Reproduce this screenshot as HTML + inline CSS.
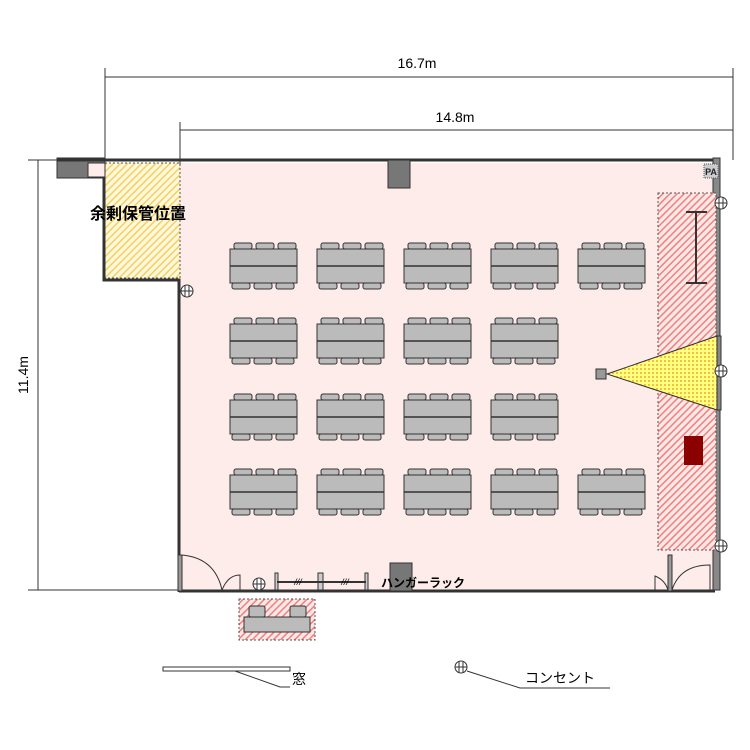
<!DOCTYPE html>
<html><head><meta charset="utf-8"><style>body{margin:0;background:#fff}svg{display:block}text{font-family:"Liberation Sans","Noto Sans CJK JP",sans-serif}</style></head><body>
<svg width="750" height="750" viewBox="0 0 750 750" xmlns="http://www.w3.org/2000/svg">
<defs>
<pattern id="ry" width="5" height="5" patternUnits="userSpaceOnUse" patternTransform="rotate(45)"><rect width="5" height="5" fill="#fff8dc"/><rect width="1.5" height="5" fill="#f5d060"/></pattern>
<pattern id="rr" width="5" height="5" patternUnits="userSpaceOnUse" patternTransform="rotate(45)"><rect width="5" height="5" fill="#fde8e6"/><rect width="1.5" height="5" fill="#f08080"/></pattern>
<pattern id="yy" width="4" height="4" patternUnits="userSpaceOnUse"><rect width="4" height="4" fill="#ffff80"/><rect width="2" height="2" fill="#f5c040"/></pattern>
<g id="tb">
<rect x="4" y="-6" width="18" height="6" rx="2" fill="#bbb" stroke="#333"/>
<rect x="26" y="-6" width="18" height="6" rx="2" fill="#bbb" stroke="#333"/>
<rect x="48" y="-6" width="18" height="6" rx="2" fill="#bbb" stroke="#333"/>
<rect x="0" y="0" width="67" height="34" fill="#bbb" stroke="#333"/>
<line x1="0" y1="17" x2="67" y2="17" stroke="#333" stroke-width="1.5"/>
<rect x="2" y="34" width="18" height="6" rx="2" fill="#bbb" stroke="#333"/>
<rect x="24" y="34" width="18" height="6" rx="2" fill="#bbb" stroke="#333"/>
<rect x="46" y="34" width="18" height="6" rx="2" fill="#bbb" stroke="#333"/>
</g>
<g id="out"><circle r="6" fill="#fff" stroke="#333"/><line x1="-6" y1="0" x2="6" y2="0" stroke="#333"/><line x1="-2" y1="-6" x2="-2" y2="6" stroke="#333"/><line x1="2" y1="-6" x2="2" y2="6" stroke="#333"/></g>
</defs>
<rect x="180" y="163" width="535" height="427" fill="#fdecea"/>
<rect x="88" y="163" width="92" height="14" fill="#fdecea"/>
<rect x="105" y="163" width="75" height="115" fill="url(#ry)" stroke="#555" stroke-dasharray="2,2"/>
<rect x="57" y="158" width="48" height="20" fill="#777" stroke="#333"/>
<rect x="88" y="163" width="17" height="14" fill="#fdecea" stroke="#333"/>
<line x1="57" y1="160" x2="715" y2="160" stroke="#333" stroke-width="3"/>
<rect x="388" y="160" width="22" height="28" fill="#777" stroke="#333"/>
<path d="M104 177 V280 H179 V592" fill="none" stroke="#333" stroke-width="3"/>
<rect x="713" y="158" width="7" height="432" fill="#888" stroke="#333"/>
<line x1="179" y1="591" x2="715" y2="591" stroke="#333" stroke-width="3"/>
<g stroke="#333" fill="none">
<line x1="105" y1="77" x2="733" y2="77"/><line x1="105" y1="68" x2="105" y2="165"/><line x1="733" y1="68" x2="733" y2="160"/>
<line x1="180" y1="130" x2="733" y2="130"/><line x1="180" y1="122" x2="180" y2="165"/>
<line x1="38" y1="160" x2="38" y2="590"/><line x1="28" y1="160" x2="60" y2="160"/><line x1="28" y1="590" x2="180" y2="590"/>
</g>
<text x="417" y="68" font-size="14" text-anchor="middle">16.7m</text>
<text x="455" y="122" font-size="14" text-anchor="middle">14.8m</text>
<text x="28" y="375" font-size="14" text-anchor="middle" transform="rotate(-90 28 375)">11.4m</text>
<text x="138" y="219" font-size="16" font-weight="bold" text-anchor="middle">余剰保管位置</text>
<g>
<use href="#tb" x="230" y="249"/><use href="#tb" x="317" y="249"/><use href="#tb" x="404" y="249"/><use href="#tb" x="491" y="249"/><use href="#tb" x="578" y="249"/>
<use href="#tb" x="230" y="324"/><use href="#tb" x="317" y="324"/><use href="#tb" x="404" y="324"/><use href="#tb" x="491" y="324"/>
<use href="#tb" x="230" y="400"/><use href="#tb" x="317" y="400"/><use href="#tb" x="404" y="400"/><use href="#tb" x="491" y="400"/>
<use href="#tb" x="230" y="475"/><use href="#tb" x="317" y="475"/><use href="#tb" x="404" y="475"/><use href="#tb" x="491" y="475"/><use href="#tb" x="578" y="475"/>
</g>
<rect x="658" y="193" width="58" height="357" fill="url(#rr)" stroke="#555" stroke-dasharray="2,2"/>
<path d="M686 212H707M696 212V283M686 283H707" stroke="#333" stroke-width="2" fill="none"/>
<polygon points="607,374 717,336 717,410" fill="url(#yy)" stroke="#333"/>
<rect x="717" y="336" width="4" height="74" fill="#888" stroke="#333"/>
<rect x="596" y="369" width="10" height="10" fill="#999" stroke="#333"/>
<rect x="684" y="436" width="19" height="29" fill="#8b0000"/>
<rect x="704" y="164" width="14" height="14" fill="#ccc" stroke="#555" stroke-dasharray="1,1"/>
<text x="711" y="175" font-size="9" font-weight="bold" text-anchor="middle" fill="#223">PA</text>
<use href="#out" x="721" y="203"/><use href="#out" x="721" y="371"/><use href="#out" x="721" y="546"/><use href="#out" x="187" y="291"/>
<g stroke="#333" fill="none">
<rect x="178" y="555" width="4" height="36" fill="#999"/>
<path d="M182 555 Q215 558 222 590"/><path d="M222 590 Q228 575 240 575 V590"/>
<rect x="668" y="555" width="4" height="36" fill="#999"/>
<path d="M672 590 Q680 565 710 565 V590" />
<path d="M655 590 V576 Q665 580 668 590"/>
</g>
<use href="#out" x="259" y="584"/>
<g stroke="#333" fill="#ccc">
<rect x="275" y="573" width="3" height="17"/><rect x="318" y="573" width="5" height="17"/><rect x="365" y="573" width="3" height="17"/>
</g>
<line x1="277" y1="582" x2="366" y2="582" stroke="#333" stroke-width="2"/>
<text x="298" y="585" font-size="9" font-style="italic" text-anchor="middle">///</text>
<text x="345" y="585" font-size="9" font-style="italic" text-anchor="middle">///</text>
<rect x="390" y="563" width="22" height="28" fill="#777" stroke="#333"/>
<text x="381" y="587" font-size="12" font-weight="bold">ハンガーラック</text>
<rect x="239" y="599" width="76" height="41" fill="url(#rr)" stroke="#555" stroke-dasharray="2,2"/>
<rect x="249" y="606" width="16" height="11" rx="2" fill="#bbb" stroke="#333"/>
<rect x="290" y="606" width="16" height="11" rx="2" fill="#bbb" stroke="#333"/>
<rect x="244" y="617" width="66" height="15" fill="#bbb" stroke="#333"/>
<rect x="163" y="667" width="127" height="4" fill="#fff" stroke="#333"/>
<polyline points="235,671 280,687 290,687" fill="none" stroke="#333"/>
<text x="292" y="684" font-size="14">窓</text>
<use href="#out" x="461" y="667"/>
<polyline points="467,671 520,688 610,688" fill="none" stroke="#333"/>
<text x="525" y="683" font-size="14">コンセント</text>
</svg>
</body></html>
